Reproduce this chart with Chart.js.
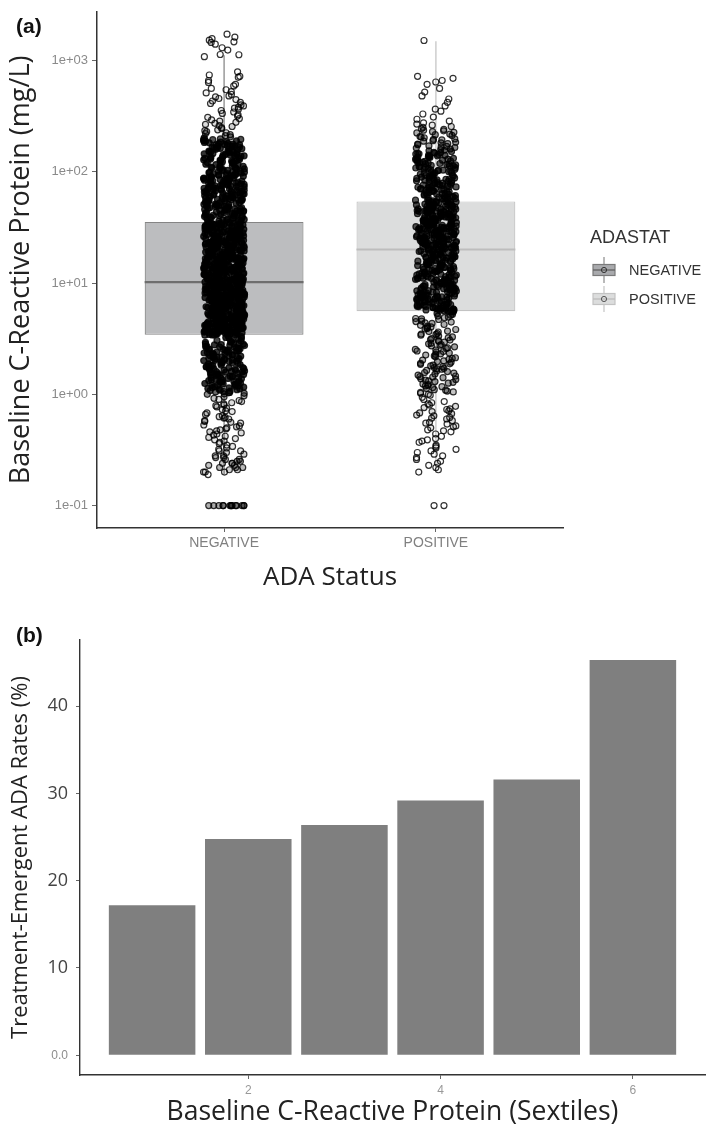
<!DOCTYPE html>
<html><head><meta charset="utf-8">
<script src="https://cdn.jsdelivr.net/npm/chart.js@4.4.1/dist/chart.umd.min.js"></script>
<style>
html,body{margin:0;padding:0;background:#fff;}
#wrap{position:relative;width:709px;height:1138px;overflow:hidden;background:#fff;}
#ca{position:absolute;left:0;top:0;}
#cb{position:absolute;left:0;top:590px;}
.lab{position:absolute;font-family:"Liberation Sans",Arial,sans-serif;font-weight:bold;font-size:21px;line-height:24px;color:#111;}
.lg{position:absolute;font-family:"Liberation Sans",Arial,sans-serif;color:#333;white-space:nowrap;}
</style></head>
<body><div id="wrap">
<canvas id="ca" width="709" height="590"></canvas>
<canvas id="cb" width="709" height="548"></canvas>
<div class="lab" style="left:16px;top:14px;">(a)</div>
<div class="lab" style="left:16px;top:623px;">(b)</div>
<div class="lg" style="left:590px;top:227px;font-size:18px;line-height:20px;">ADASTAT</div>
<svg class="lg" style="left:592px;top:257px;" width="24" height="26"><line x1="12" y1="0" x2="12" y2="26" stroke="#8a8a8a" stroke-width="1.2"/><rect x="1" y="7.5" width="22" height="11" fill="#a9aaad" stroke="#7a7a7a" stroke-width="1.2"/><line x1="1" y1="13" x2="23" y2="13" stroke="#666" stroke-width="1.4"/><circle cx="12" cy="13" r="2.6" fill="none" stroke="#333" stroke-width="1"/></svg>
<div class="lg" style="left:629px;top:261px;font-size:14.5px;line-height:18px;">NEGATIVE</div>
<svg class="lg" style="left:592px;top:286px;" width="24" height="26"><line x1="12" y1="0" x2="12" y2="26" stroke="#c4c4c4" stroke-width="1.2"/><rect x="1" y="7.5" width="22" height="11" fill="#dcdddd" stroke="#c3c3c3" stroke-width="1.2"/><line x1="1" y1="13" x2="23" y2="13" stroke="#bdbdbd" stroke-width="1.4"/><circle cx="12" cy="13" r="2.6" fill="none" stroke="#555" stroke-width="1"/></svg>
<div class="lg" style="left:629px;top:290px;font-size:14.5px;line-height:18px;">POSITIVE</div>
</div>
<script>
// ---------- Panel (a) data ----------
const categories = ['NEGATIVE', 'POSITIVE'];
const yTickVals = [0.1, 1, 10, 100, 1000];
const yTickLabels = ['1e-01', '1e+00', '1e+01', '1e+02', '1e+03'];
const boxQ1 = [3.42, 5.57];
const boxMedian = [10.2, 20.0];
const boxQ3 = [35.4, 54.1];
const whiskerLow = [0.19, 0.21];
const whiskerHigh = [1115, 1486];

const negCRP = [
0.1,0.1,0.1,0.1,0.1,0.1,0.1,0.1,0.1,0.1,0.1,0.1,0.1,0.1,
0.19,0.2,0.2,0.21,0.2,0.22,0.21,0.23,0.22,0.24,0.25,0.23,0.26,0.24,0.27,0.25,0.28,0.22,0.29,0.26,0.3,0.27,0.24,0.28,
0.31,0.33,0.32,0.36,0.34,0.35,0.38,0.37,0.31,0.4,0.39,0.42,0.41,0.45,0.44,0.43,0.47,0.46,0.5,0.48,0.52,0.49,0.55,0.53,0.51,0.58,0.56,0.6,0.57,0.63,0.61,0.66,0.64,0.7,0.68,0.62,0.73,0.71,0.77,0.75,0.8,0.79,0.84,0.82,0.88,0.86,0.92,0.9,0.97,0.95,
1,1.02,1.01,1.05,1.04,1.08,1.06,1.1,1.09,1.13,1.12,1.16,1.15,1.19,1.18,1.2,1.23,1.22,1.26,1.25,1.29,1.27,1.31,1.3,1.34,1.33,1.38,1.36,1.41,1.4,1.45,1.43,1.48,1.47,1.5,1.53,1.52,1.57,1.55,1.6,1.59,1.64,1.62,1.68,1.66,1.72,1.7,1.76,1.74,1.8,1.78,1.85,1.83,1.9,1.87,1.94,1.92,1.99,1.97,2.04,2.01,2.09,2.06,2.14,2.11,2.2,2.17,2.25,2.22,2.31,2.28,2.37,2.34,2.43,2.4,2.5,2.46,2.56,2.53,2.63,2.6,2.7,2.67,2.78,2.74,2.86,2.82,2.95,3.05,3.2,
1.03,1.07,1.11,1.14,1.17,1.21,1.24,1.28,1.32,1.35,1.39,1.42,1.46,1.49,1.51,1.54,1.58,1.61,1.65,1.69,1.73,1.77,1.81,1.86,1.89,1.93,1.96,2.02,2.05,2.08,2.12,2.16,2.19,2.23,2.26,2.3,2.35,2.39,2.42,2.45,2.49,2.52,2.55,2.59,2.62,2.66,2.71,2.75,2.8,2.84,2.89,2.93,2.98,3.02,3.08,3.13,3.18,3.24,3.3,3.36,
3.42,3.4,3.47,3.44,3.52,3.49,3.55,3.58,3.61,3.6,3.66,3.63,3.7,3.68,3.74,3.72,3.79,3.76,3.83,3.81,3.88,3.85,3.92,3.9,3.97,3.95,4.02,4,4.07,4.05,4.12,4.1,4.17,4.15,4.22,4.2,4.28,4.25,4.33,4.3,4.38,4.36,4.44,4.41,4.5,4.47,4.55,4.52,4.61,4.58,4.67,4.64,4.73,4.7,4.79,4.76,4.85,4.82,4.91,4.88,4.97,4.94,5.04,5,5.1,5.07,5.17,5.13,5.23,5.2,5.3,5.27,5.37,5.33,5.44,5.4,5.51,5.47,5.58,5.55,5.65,5.62,5.73,5.69,5.8,5.76,5.88,5.84,5.96,5.92,6.04,6,6.12,6.08,6.2,6.16,6.28,6.24,6.37,6.33,6.46,6.41,6.55,6.5,6.64,6.59,6.73,6.68,6.82,6.78,6.92,6.87,7.01,6.97,7.11,7.06,7.21,7.16,7.31,7.26,7.41,7.36,7.52,7.46,7.62,7.57,7.73,7.68,7.84,7.78,7.95,7.89,8.06,8,8.17,8.12,8.29,8.23,8.41,8.35,8.53,8.47,8.65,8.59,8.77,8.71,8.9,8.84,9.02,8.96,9.15,9.09,9.28,9.22,9.42,9.35,9.55,9.49,9.69,9.62,9.83,9.76,9.97,9.9,3.5,4.6,5.5,6.4,7.2,8.1,4.0,4.9,5.8,6.9,3.7,4.4,5.2,9.3,
3.41,3.53,3.65,3.78,3.91,4.03,4.16,4.29,4.43,4.57,4.71,4.86,5.01,5.16,5.32,5.48,5.64,5.82,5.99,6.17,6.35,6.54,6.74,6.94,7.15,7.36,7.58,7.81,8.04,8.28,8.53,8.78,9.05,9.31,9.59,9.88,
3.45,3.57,3.69,3.82,3.94,4.06,4.19,4.32,4.46,4.6,4.74,4.89,5.04,5.19,5.35,5.51,5.68,5.85,6.02,6.21,6.39,6.58,6.77,6.98,7.18,7.4,7.62,7.85,8.09,8.33,8.58,8.84,9.1,9.37,9.65,9.93,
3.5,3.62,3.74,3.86,3.99,4.11,4.24,4.37,4.51,4.64,4.8,4.95,5.09,5.25,5.41,5.57,5.74,5.91,6.1,6.28,6.46,6.66,6.85,7.08,7.28,7.5,7.71,7.94,8.2,8.44,8.69,8.95,9.22,9.5,9.78,
3.48,3.88,4.27,4.68,5.14,5.6,6.06,6.63,7.24,7.9,8.62,9.4,3.71,
10.1,10,10.3,10.2,10.5,10.4,10.7,10.6,10.9,10.8,11.1,11,11.3,11.2,11.5,11.4,11.8,11.6,12,11.9,12.2,12.1,12.5,12.3,12.7,12.6,13,12.8,13.2,13.1,13.5,13.3,13.7,13.6,14,13.9,14.3,14.1,14.5,14.4,14.8,14.7,15.1,15,15.4,15.2,15.7,15.5,16,15.8,16.3,16.1,16.6,16.4,16.9,16.8,17.2,17.1,17.6,17.4,17.9,17.7,18.3,18.1,18.6,18.4,19,18.8,19.4,19.2,19.8,19.6,20.2,20,20.6,20.4,21,20.8,21.4,21.2,21.9,21.6,22.3,22.1,22.8,22.5,23.2,23,23.7,23.5,24.2,24,24.7,24.4,25.2,24.9,25.7,25.5,26.2,26,26.8,26.5,27.3,27,27.9,27.6,28.5,28.2,29.1,28.8,29.7,29.4,30.3,30,31,30.6,31.6,31.3,32.3,32,33,32.6,33.7,33.4,34.4,34,35,34.7,12.4,15.6,18.5,22.6,27.4,31.8,11.7,14.2,17,20.9,25,29.9,10.6,13.4,16.2,19.5,23.9,28.6,33.2,12.9,16.7,21.7,26.6,32.8,11.2,14.9,18.9,24.5,30.8,13.8,20.3,27.1,10.4,15.3,19.9,25.9,34.2,11.9,17.8,23.3,29.3,14.6,21.1,26.9,10.9,16.5,22.9,31.1,18.2,13.1,
10.05,10.35,10.65,10.95,11.25,11.55,11.9,12.25,12.6,12.95,13.35,13.75,14.15,14.55,15,15.45,15.9,16.35,16.85,17.35,17.85,18.4,18.95,19.5,20.1,20.7,21.3,21.95,22.6,23.3,24,24.7,25.45,26.2,27,27.8,28.65,29.5,30.4,31.3,32.2,33.2,34.2,
10.15,10.45,10.75,11.05,11.35,11.7,12.05,12.4,12.75,13.15,13.55,13.95,14.35,14.8,15.25,15.7,16.15,16.65,17.15,17.65,18.2,18.75,19.3,19.9,20.5,21.1,21.75,22.4,23.1,23.8,24.5,25.25,26,26.8,27.6,28.45,29.3,30.15,31.05,32,32.95,33.95,
10.25,10.85,11.45,12.15,12.85,13.6,14.4,15.3,16.2,17.2,18.2,19.3,20.4,21.6,22.9,24.3,25.7,27.2,28.8,30.5,32.4,34.5,
11.65,13.9,16.6,19.75,23.55,28.05,33.5,12.35,14.75,17.55,21.4,25.05,29.7,
36,35.5,37,36.5,38,37.5,39,38.5,40,39.5,41,40.5,42,41.5,43,42.5,44,43.5,45,44.5,46,45.5,47,46.5,48,47.5,49,48.5,50,49.5,51,50.5,52,51.5,53,52.5,54,53.5,55,54.5,56,55.5,57,56.5,58,57.5,59,58.5,60,59.5,61,62,63,64,65,66,67,68,69,70,60.5,62.5,64.5,66.5,68.5,71,72,73,74,75,76,77,78,79,80,81,82,83,84,85,86,87,88,89,90,91,92,93,94,95,96,97,98,99,70.5,74.5,78.5,82.5,87.5,93.5,
35.8,36.8,37.8,38.8,39.8,40.8,41.9,43,44.1,45.2,46.3,47.5,48.7,49.9,51.2,52.5,53.8,55.2,56.6,58,59.5,61,62.6,64.2,65.8,67.5,69.2,71,72.8,74.6,76.5,78.5,80.5,82.5,84.6,86.8,89,91.2,93.5,95.9,98.3,
36.3,38.3,40.3,42.4,44.6,46.9,49.3,51.8,54.4,57.2,60.1,63.2,66.4,69.8,73.4,77.2,81.1,85.3,89.7,94.3,99,
37.3,41.4,45.8,50.6,55.9,61.8,68.3,75.5,
101,103,104,106,107,109,110,112,113,115,117,118,120,122,124,125,127,129,131,133,135,137,139,141,143,145,147,150,152,154,157,159,162,164,167,169,172,175,177,180,183,186,189,192,195,198,108,126,148,171,
100.5,102,105,108.5,111,114,116,119,121,123,126,128,130,132,134,136,138,140,142,144,146,149,151,153,156,158,161,163,166,168,171,174,176,179,182,185,188,191,194,197,
202,206,211,215,220,224,229,234,238,244,249,255,260,266,272,278,285,292,300,308,316,325,334,344,355,365,372,380,390,398,
410,420,432,445,455,470,480,495,510,525,545,560,590,610,635,660,705,720,740,790,
1080,1125,1130,1240,1300,1400,1450,1470,1520,1570,1620,1720
];

const posCRP = [
0.1,0.1,
0.2,0.21,0.22,0.24,0.23,0.25,0.27,0.26,0.28,0.3,0.29,0.31,0.33,0.32,0.35,0.34,0.37,0.38,0.4,0.39,0.42,0.44,
0.46,0.48,0.47,0.5,0.52,0.51,0.55,0.54,0.58,0.56,0.6,0.62,0.61,0.65,0.64,0.68,0.67,0.71,0.7,0.74,0.73,0.78,0.76,0.82,0.8,0.86,0.84,0.9,0.94,0.98,
1,1.04,1.05,1.09,1.1,1.15,1.17,1.2,1.24,1.26,1.3,1.34,1.36,1.41,1.44,1.46,1.52,1.55,1.6,1.62,1.68,1.71,1.77,1.8,1.86,1.9,1.94,2,2.06,2.1,2.17,2.21,2.28,2.35,2.4,2.45,2.53,2.58,2.67,2.72,2.8,2.88,2.94,3.03,3.1,3.17,3.28,3.34,3.45,3.52,3.63,3.7,3.82,3.9,4.03,4.1,4.24,4.33,4.46,4.55,4.7,4.8,4.95,5.05,5.22,5.33,
1.02,1.07,1.13,1.19,1.22,1.28,1.32,1.38,1.43,1.49,1.57,1.64,1.7,1.74,1.83,1.88,1.97,2.03,2.13,2.25,2.31,2.42,2.5,2.62,2.76,2.84,2.99,3.07,3.22,3.4,3.48,3.66,3.86,3.97,4.17,4.39,4.5,4.76,4.88,5.13,
5.5,5.57,5.61,5.7,5.73,5.82,5.86,5.93,6.01,6.05,6.14,6.18,6.27,6.32,6.41,6.46,6.55,6.6,6.69,6.74,6.84,6.88,6.99,7.03,7.14,7.18,7.29,7.35,7.45,7.5,7.61,7.67,7.78,7.83,7.95,8.01,8.12,8.18,8.3,8.36,8.48,8.54,8.67,8.73,8.86,8.92,9.05,9.12,9.25,9.32,9.45,9.52,9.66,9.73,9.88,9.95,10.1,10.2,10.3,10.4,10.6,10.6,10.8,10.9,11,11.1,11.3,11.4,11.5,11.6,11.8,11.9,12,12.1,12.3,12.4,12.6,12.7,12.9,13,13.2,13.3,13.5,13.6,13.8,13.9,14.1,14.2,14.4,14.5,14.7,14.8,15,15.1,15.3,15.5,15.7,15.8,16,16.1,16.4,16.5,16.7,16.9,17.1,17.2,17.5,17.6,17.9,18,18.3,18.4,18.7,18.8,19.1,19.2,19.5,19.7,19.9,20,
5.53,5.65,5.77,5.9,6.03,6.16,6.3,6.44,6.58,6.72,6.86,7.01,7.16,7.32,7.48,7.64,7.8,7.97,8.15,8.33,8.51,8.7,8.89,9.08,9.28,9.48,9.69,9.9,10.15,10.35,10.55,10.75,11.05,11.25,11.55,11.75,12.05,12.25,12.55,12.85,13.15,13.45,13.75,14.05,14.35,14.65,15.05,15.4,15.75,16.1,16.45,16.8,17.2,17.55,17.95,18.35,18.8,19.2,19.6,
5.6,5.95,6.36,6.77,7.24,7.72,8.24,8.8,9.38,10,10.65,11.35,12.15,12.95,13.85,14.75,15.95,17,18.1,19.35,5.79,
20.3,20.4,20.6,20.8,21,21.1,21.3,21.5,21.7,21.8,22.1,22.2,22.4,22.6,22.8,23,23.2,23.3,23.6,23.7,24,24.1,24.4,24.5,24.8,24.9,25.2,25.4,25.6,25.8,26.1,26.2,26.5,26.7,27,27.1,27.4,27.6,27.9,28,28.4,28.5,28.8,29,29.3,29.5,29.8,30,30.3,30.5,30.8,31,31.3,31.5,31.9,32.1,32.4,32.6,32.9,33.2,33.5,33.7,34.1,34.3,34.6,34.9,35.2,35.5,35.8,36.1,36.4,36.7,37.1,37.4,37.7,38,38.4,38.6,39,39.3,39.7,40,40.4,40.6,41.1,41.3,41.8,42,42.5,42.7,43.2,43.4,43.9,44.2,44.7,44.9,45.5,45.7,46.3,46.5,47.1,47.3,47.8,48.1,48.6,48.9,49.5,49.7,50.3,50.6,51.2,51.4,52.1,52.3,53,53.2,53.9,54.2,54.8,55,
20.15,20.55,20.95,21.4,21.9,22.35,22.9,23.4,23.9,24.4,24.95,25.5,26.05,26.6,27.2,27.8,28.4,29.05,29.7,30.35,31.05,31.75,32.45,33.1,33.85,34.6,35.35,36.2,37,37.8,38.7,39.5,40.4,41.25,42.2,43.1,44.05,45.05,46.05,47.05,48.2,49.2,50.3,51.55,52.7,53.85,
20.3,21.2,22.2,23.2,24.2,25.3,26.4,27.65,28.9,30.2,31.6,33,34.5,36,37.6,39.2,41,42.9,44.8,46.8,48.9,51.1,53.4,
22.55,26.9,31.4,36.75,42.6,48.45,53.6,27.3,33.35,40.1,46.15,
55.5,56,57,57.5,58,59,59.5,60,61,62,62.5,63,64,65,65.5,66,67,68,69,70,71,71.5,72,73,74,75,76,77,78,79,80,81,82,83,84,85,86,87,88,90,91,92,93,95,96,97,99,100,101,103,104,105,107,108,110,111,113,114,116,117,119,120,122,124,125,127,129,130,132,134,136,137,139,141,143,145,147,149,57.2,84.5,
56.5,58.5,60.5,62.8,64.5,66.5,68.5,70.5,72.5,74.5,76.5,78.5,81.5,83.5,85.5,88.5,91.5,94,97.5,102,106,109,112,115,118,121,126,131,135,140,144,148,
58.7,63.5,67.8,73.5,79.5,86.5,92.5,98,109.5,118.5,128,138,146,61.5,69.5,75.5,89.5,103.5,
152,156,160,163,167,171,175,179,184,188,193,197,202,207,212,218,223,229,236,243,250,262,275,285,296,
154,158,165,169,177,182,190,195,205,215,226,233,240,255,268,
310,330,350,365,390,420,450,480,520,560,
610,640,660,690,720,
1510
];

// ---------- Panel (b) data ----------
const sextiles = [1, 2, 3, 4, 5, 6];
const adaRates = [17.2, 24.8, 26.4, 29.2, 31.6, 45.3];
const xTicksB = [2, 4, 6];
const yTicksB = [0, 10, 20, 30, 40];
const yTickLabelsB = ['0.0', '10', '20', '30', '40'];

// ---------- styling constants ----------
const BOXW = 0.75;
const JITTER = 0.097;
const TICKFONT = '"Liberation Sans", Arial, sans-serif';
const TITLEFONT = '"Open Sans", "Noto Sans", sans-serif';
const boxFill = ['#bcbdbf', '#dcdddd'];
const boxLine = ['#858585', '#c3c3c3'];
const medLine = ['#6e6e6e', '#bdbdbd'];
const whiskLine = ['#8a8a8a', '#c6c6c6'];

// deterministic horizontal jitter (position only, like geom_jitter)
function spread(i, seed) {
  let h = Math.imul((i + 1) ^ seed, 2654435761) >>> 0;
  h ^= h >>> 15; h = Math.imul(h, 2246822519) >>> 0;
  h ^= h >>> 13; h = Math.imul(h, 3266489917) >>> 0;
  h ^= h >>> 16;
  return (h >>> 0) / 4294967296;
}
function jit(i, seed) { return (2 * spread(i, seed) - 1) * JITTER; }
// overplotting shade: darker fill where the cloud is crowded (hollow where sparse)
function crowdFill(vals, cap) {
  const L = vals.map(v => Math.log10(v));
  return L.map(l => {
    let n = 0;
    for (const m of L) if (Math.abs(m - l) < 0.05) n++;
    const a = Math.max(0, Math.min(cap, (n - 7) / 22));
    return 'rgba(0,0,0,' + a.toFixed(3) + ')';
  });
}
const negPts = negCRP.map((v, i) => ({x: 1 + jit(i, 17), y: v}));
const posPts = posCRP.map((v, i) => ({x: 2 + jit(i, 91), y: v}));

const datasetsA = [];
const pointStyle = {type: 'scatter', pointRadius: 3, pointBorderWidth: 1.2,
  pointBorderColor: 'rgba(0,0,0,0.8)', order: 0};
datasetsA.push(Object.assign({label: 'NEGATIVE points', data: negPts, pointBackgroundColor: crowdFill(negCRP, 0.8)}, pointStyle));
datasetsA.push(Object.assign({label: 'POSITIVE points', data: posPts, pointBackgroundColor: crowdFill(posCRP, 0.65)}, pointStyle));
categories.forEach((c, i) => {
  datasetsA.push({type: 'line', label: c + ' median', data: [{x: i + 1 - BOXW / 2, y: boxMedian[i]}, {x: i + 1 + BOXW / 2, y: boxMedian[i]}],
    borderColor: medLine[i], borderWidth: 2.2, pointRadius: 0, order: 1});
  datasetsA.push({type: 'line', label: c + ' whisker', data: [{x: i + 1, y: whiskerLow[i]}, {x: i + 1, y: whiskerHigh[i]}],
    borderColor: whiskLine[i], borderWidth: 1.3, pointRadius: 0, order: 3});
});
datasetsA.push({type: 'bar', label: 'box', data: categories.map((c, i) => ({x: i + 1, y: [boxQ1[i], boxQ3[i]]})),
  backgroundColor: boxFill, borderColor: boxLine, borderWidth: 1.2, borderSkipped: false,
  barPercentage: BOXW, categoryPercentage: 1, order: 2});

new Chart(document.getElementById('ca'), {
  type: 'scatter',
  data: {datasets: datasetsA},
  options: {
    responsive: false, animation: false, devicePixelRatio: 1,
    layout: {padding: {left: 0, right: 146, top: 8, bottom: 0}},
    plugins: {legend: {display: false}, tooltip: {enabled: false}},
    scales: {
      x: {
        type: 'linear', min: 0.4, max: 2.6, offset: false,
        afterBuildTicks: s => { s.ticks = [1, 2].map(v => ({value: v})); },
        afterFit: s => { s.height = 62; },
        ticks: {callback: v => categories[v - 1], font: {family: TICKFONT, size: 14}, color: '#808080', padding: 3, maxRotation: 0, autoSkip: false},
        grid: {offset: false, drawOnChartArea: false, drawTicks: true, tickLength: 4, color: '#666', tickColor: '#666'},
        border: {display: true, color: '#333', width: 1.5},
        title: {display: true, text: 'ADA Status', font: {family: TITLEFONT, size: 26, lineHeight: 1}, color: '#222', padding: {top: 0, bottom: -1}}
      },
      y: {
        type: 'logarithmic', min: 0.0629, max: 2735,
        afterBuildTicks: s => { s.ticks = yTickVals.map(v => ({value: v})); },
        afterFit: s => { s.width = 97; },
        ticks: {callback: v => yTickLabels[yTickVals.indexOf(v)], font: {family: TICKFONT, size: 13}, color: '#8a8a8a', padding: 4, autoSkip: false},
        grid: {drawOnChartArea: false, drawTicks: true, tickLength: 5, color: '#666', tickColor: '#666'},
        border: {display: true, color: '#333', width: 1.5},
        title: {display: true, text: 'Baseline C-Reactive Protein (mg/L)', font: {family: TITLEFONT, size: 27, lineHeight: 1.2}, color: '#222', padding: {top: 5, bottom: 0}}
      }
    }
  }
});

new Chart(document.getElementById('cb'), {
  type: 'bar',
  data: {datasets: [{label: 'Treatment-Emergent ADA Rates (%)', data: sextiles.map((s, i) => ({x: s, y: adaRates[i]})),
    backgroundColor: '#7f7f7f', borderWidth: 0, barPercentage: 0.9, categoryPercentage: 1}]},
  options: {
    responsive: false, animation: false, devicePixelRatio: 1,
    layout: {padding: {left: 0, right: 4, top: 50, bottom: 0}},
    plugins: {legend: {display: false}, tooltip: {enabled: false}},
    scales: {
      x: {
        type: 'linear', min: 0.25, max: 6.75, offset: false,
        afterBuildTicks: s => { s.ticks = xTicksB.map(v => ({value: v})); },
        afterFit: s => { s.height = 63; },
        ticks: {callback: v => String(v), font: {family: TICKFONT, size: 12}, color: '#999', padding: 4, maxRotation: 0, autoSkip: false},
        grid: {offset: false, drawOnChartArea: false, drawTicks: true, tickLength: 4, color: '#666', tickColor: '#666'},
        border: {display: true, color: '#333', width: 1.4},
        title: {display: true, text: 'Baseline C-Reactive Protein (Sextiles)', font: {family: TITLEFONT, size: 26.5, lineHeight: 1.2}, color: '#222', padding: {top: 0, bottom: 10}}
      },
      y: {
        type: 'linear', min: -2.27, max: 47.6,
        afterBuildTicks: s => { s.ticks = yTicksB.map(v => ({value: v})); },
        afterFit: s => { s.width = 80; },
        ticks: {
          callback: v => yTickLabelsB[yTicksB.indexOf(v)],
          font: c => (c.tick && c.tick.value === 0) ? {family: '"Liberation Sans Narrow", "Liberation Sans", sans-serif', size: 12} : {family: TITLEFONT, size: 18},
          color: c => (c.tick && c.tick.value === 0) ? '#8c8c8c' : '#444',
          padding: 8, autoSkip: false},
        grid: {drawOnChartArea: false, drawTicks: true, tickLength: 4, color: '#666', tickColor: '#666'},
        border: {display: true, color: '#333', width: 1.4},
        title: {display: true, text: 'Treatment-Emergent ADA Rates (%)', font: {family: TITLEFONT, size: 22, lineHeight: 1.2}, color: '#222', padding: {top: 8, bottom: 0}}
      }
    }
  }
});
</script>
</body></html>
